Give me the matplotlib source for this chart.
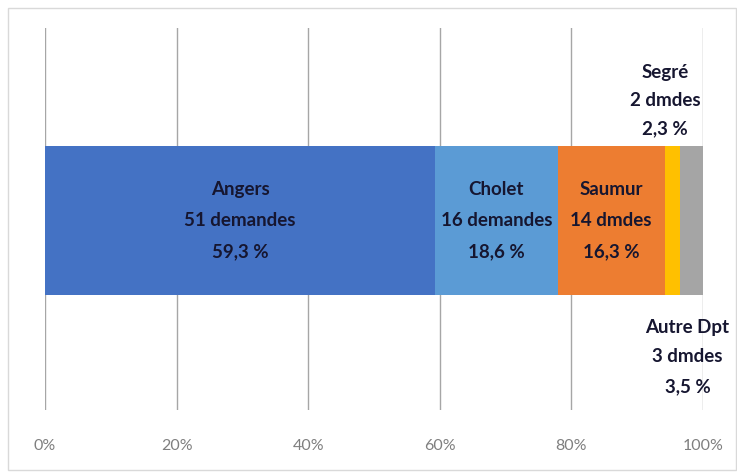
import matplotlib.pyplot as plt
from matplotlib.patches import Rectangle

communes = ["Angers", "Cholet", "Saumur", "Segré", "Autre Dpt"]
demandes = ["51 demandes", "16 demandes", "14 dmdes", "2 dmdes", "3 dmdes"]
parts = [59.3, 18.6, 16.3, 2.3, 3.5]
pct_labels = ["59,3 %", "18,6 %", "16,3 %", "2,3 %", "3,5 %"]
ticks = [0, 20, 40, 60, 80, 100]
tick_labels = ["0%", "20%", "40%", "60%", "80%", "100%"]

colors = ["#4472C4", "#5B9BD5", "#ED7D31", "#FFC000", "#A5A5A5"]
text_color = "#161630"

fig = plt.figure(figsize=(7.37, 4.72), dpi=100)
fig.patch.set_facecolor("white")
# thin frame around the whole chart area
fig.add_artist(Rectangle((8 / 737, 2 / 472), 728 / 737, 462 / 472, transform=fig.transFigure,
                         fill=False, edgecolor="#d9d9d9", linewidth=1))

ax = fig.add_axes([45 / 737, 62 / 472, 658 / 737, 382 / 472])
bar_h = 0.39
left = 0
centers = []
for value, color in zip(parts, colors):
    ax.barh(0, value, left=left, height=bar_h, color=color, zorder=2)
    centers.append(left + value / 2)
    left += value

ax.set_xlim(0, 100)
ax.set_ylim(-0.496, 0.504)
ax.set_xticks(ticks)
ax.set_xticklabels(tick_labels)
ax.set_yticks([])
ax.grid(axis="x", color="#a6a6a6", linewidth=1, zorder=0)
for side in ["top", "right", "bottom", "left"]:
    ax.spines[side].set_visible(False)
ax.tick_params(axis="x", length=0, pad=21, labelsize=11.5, labelcolor="#7f7f7f")
for lbl in ax.get_xticklabels():
    lbl.set_fontfamily("Lato")

step = 31 / 382
label_font = dict(fontsize=13.5, fontweight="bold", color=text_color, family="Lato",
                  ha="center", va="center", zorder=5)

# labels inside the three large segments
for i in range(3):
    lines = [communes[i], demandes[i], pct_labels[i]]
    for k, line in enumerate(lines):
        ax.text(centers[i], step * (1 - k), line, **label_font)

# small segments: labels above and below the bar
seg_x = [centers[3] - 1.1, centers[4] - 0.6]
above = [0.504 - (72 - 28) / 382, 0.504 - (100 - 28) / 382, 0.504 - (129 - 28) / 382]
below = [0.504 - (327 - 28) / 382, 0.504 - (357 - 28) / 382, 0.504 - (387 - 28) / 382]
for k, line in enumerate([communes[3], demandes[3], pct_labels[3]]):
    ax.text(seg_x[0], above[k], line, **label_font)
for k, line in enumerate([communes[4], demandes[4], pct_labels[4]]):
    ax.text(seg_x[1], below[k], line, **label_font)

fig.savefig("out.png", dpi=100, facecolor="white")
